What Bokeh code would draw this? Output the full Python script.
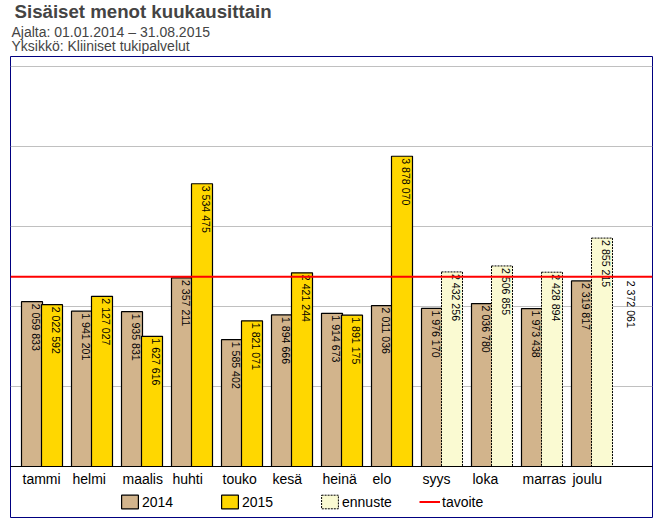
from math import pi
from bokeh.plotting import figure
from bokeh.models import (Range1d, Span, Title, Legend, LegendItem, FixedTicker, Grid)
from bokeh.core.properties import value
from bokeh.embed import file_html
from bokeh.resources import INLINE

# ---- data ----
months = ["tammi", "helmi", "maalis", "huhti", "touko", "kesä",
          "heinä", "elo", "syys", "loka", "marras", "joulu"]
v2014 = [2059833, 1941201, 1935831, 2357211, 1585402, 1894666,
         1914673, 2011036, 1976170, 2036780, 1973438, 2319817]
v2015 = [2022592, 2127027, 1627616, 3534475, 1821071, 2421244,
         1891175, 3878070]
forecast = [2432256, 2506855, 2428894, 2855215]
target = 2372061
grid_ticks = [1000000, 2000000, 3000000, 4000000, 5000000]
title_text = "Sisäiset menot kuukausittain"
subtitle_lines = ["Ajalta: 01.01.2014 – 31.08.2015", "Yksikkö: Kliiniset tukipalvelut"]
legend_labels = ["2014", "2015", "ennuste", "tavoite"]

# ---- styles ----
C2014 = "#D2B48C"
C2015 = "#FFD700"
CFC = "#FAFAD2"
FONT = "Liberation Sans"


def fmt(v):
    return f"{v:,}".replace(",", " ")


idx = list(range(len(months)))
n15 = len(v2015)
x14 = [i - 0.2 for i in idx]
x15 = [i + 0.2 for i in idx[:n15]]
xfc = [i + 0.2 for i in idx[n15:]]
BW = 0.42

xr = Range1d(-0.63, 12.21)
yr = Range1d(-637500, 5125000)
p = figure(frame_width=642, frame_height=461, x_range=xr, y_range=yr,
           x_axis_type=None, y_axis_type=None, title=None,
           output_backend="svg", toolbar_location=None,
           min_border_left=10, min_border_right=5, min_border_bottom=2, min_border_top=0)
p.outline_line_color = "#000080"
p.outline_line_width = 1
p.background_fill_color = "white"
p.border_fill_color = "white"

p.add_layout(Grid(dimension=1, ticker=FixedTicker(ticks=grid_ticks),
                  grid_line_color="#C0C0C0", grid_line_width=1))

# subtitles first (closest to the frame), then main title on top
p.add_layout(Title(text="\n".join(subtitle_lines), text_font=FONT, text_font_size="14px",
                   text_font_style="normal", text_line_height=0.9, standoff=1, offset=1,
                   align="left", vertical_align="top"), "above")
p.add_layout(Title(text=title_text, text_font=FONT, text_font_size="18.67px",
                   text_font_style="bold", standoff=0, offset=4, align="left",
                   vertical_align="top"), "above")

# baseline
p.add_layout(Span(location=0, dimension="width", line_color="black", line_width=1))

r14 = p.vbar(x=x14, top=v2014, width=BW, bottom=0, fill_color=C2014,
             line_color="black", line_width=1.2)
lab_kw = dict(angle=-pi / 2, text_align="left", text_baseline="top",
              text_font=value(FONT), text_font_size="10.6px", text_color="black",
              x_offset=-1, y_offset=2)
p.text(x=[x + BW / 2 for x in x14], y=v2014, text=[fmt(v) for v in v2014], **lab_kw)

r15 = p.vbar(x=x15, top=v2015, width=BW, bottom=0, fill_color=C2015,
             line_color="black", line_width=1.2)
p.text(x=[x + BW / 2 for x in x15], y=v2015, text=[fmt(v) for v in v2015], **lab_kw)

rfc = p.vbar(x=xfc, top=forecast, width=BW, bottom=0, fill_color=CFC,
             line_color="black", line_width=1, line_dash="2 1")
p.text(x=[x + BW / 2 for x in xfc], y=forecast, text=[fmt(v) for v in forecast], **lab_kw)

# target line across the whole plot width
rt = p.line(x=[xr.start, xr.end], y=[target, target], line_color="red", line_width=2)

# target value label
tkw = dict(lab_kw)
tkw["y_offset"] = 4
p.text(x=[len(months) - 0.09], y=[target], text=[fmt(target)], **tkw)

# category labels
p.text(x=[i - 0.41 for i in idx], y=[0] * len(months), text=months,
       text_align="left", text_baseline="top", x_offset=1, y_offset=4,
       text_font=value(FONT), text_font_size="14px", text_color="black")

legend = Legend(items=[LegendItem(label=legend_labels[0], renderers=[r14]),
                       LegendItem(label=legend_labels[1], renderers=[r15]),
                       LegendItem(label=legend_labels[2], renderers=[rfc]),
                       LegendItem(label=legend_labels[3], renderers=[rt])],
                orientation="horizontal", location=(109, 7),
                glyph_width=21, glyph_height=17, label_height=17, label_width=77,
                label_standoff=2, spacing=0, padding=0, margin=0,
                border_line_alpha=0, background_fill_alpha=0,
                label_text_font=FONT, label_text_font_size="14px",
                label_text_color="black")
p.add_layout(legend)

open("out.html", "w").write(file_html(p, INLINE))
